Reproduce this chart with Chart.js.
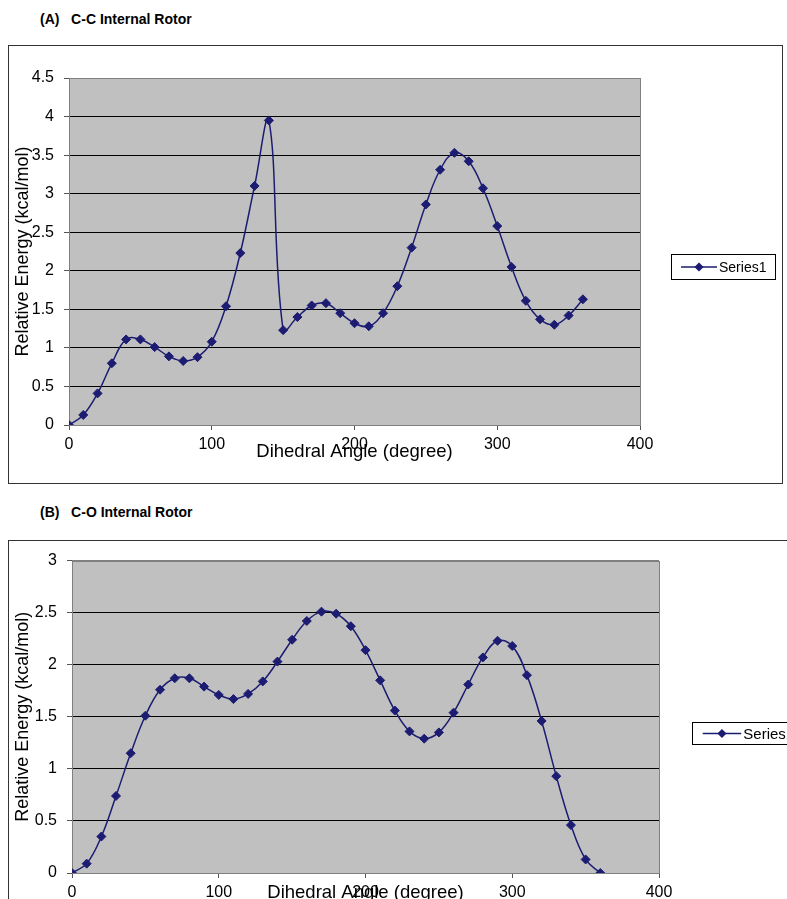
<!DOCTYPE html>
<html>
<head>
<meta charset="utf-8">
<script src="https://cdn.jsdelivr.net/npm/chart.js@4/dist/chart.umd.min.js"></script>
<style>
  html, body { margin: 0; padding: 0; background: #fff; overflow: hidden; }
  body { width: 787px; height: 899px; position: relative; font-family: "Liberation Sans", Arial, sans-serif; }
  .title { position: absolute; left: 40px; font-weight: bold; font-size: 14px; white-space: pre; color: #000; letter-spacing: 0; }
  .box { position: absolute; border: 1px solid #333; box-sizing: border-box; }
  .box canvas { position: absolute; left: 0; top: 0; }
</style>
</head>
<body>
<div class="title" style="top:11px">(A)   C-C Internal Rotor</div>
<div class="box" style="left:8px; top:45px; width:775px; height:439px">
  <canvas id="ccChart" width="773" height="437" style="width:773px;height:437px"></canvas>
</div>
<div class="title" style="top:504px">(B)   C-O Internal Rotor</div>
<div class="box" style="left:8px; top:540px; width:800px; height:400px">
  <canvas id="coChart" width="798" height="398" style="width:798px;height:398px"></canvas>
</div>
<script>
// dihedral angles (degree)
const angles = [0, 10, 20, 30, 40, 50, 60, 70, 80, 90, 100, 110, 120, 130, 140, 150, 160, 170, 180,
    190, 200, 210, 220, 230, 240, 250, 260, 270, 280, 290, 300, 310, 320, 330, 340, 350, 360];

// (A) C-C internal rotor, relative energy (kcal/mol)
const ccEnergy = [0, 0.13, 0.41, 0.80, 1.11, 1.11, 1.01, 0.89, 0.83, 0.88, 1.08, 1.54, 2.23, 3.10, 3.95,
    1.23, 1.40, 1.55, 1.58, 1.45, 1.32, 1.28, 1.45, 1.80, 2.30, 2.86, 3.31, 3.53, 3.42, 3.07, 2.58,
    2.05, 1.61, 1.37, 1.30, 1.42, 1.63];

// (B) C-O internal rotor, relative energy (kcal/mol)
const coEnergy = [0, 0.09, 0.35, 0.74, 1.15, 1.51, 1.76, 1.87, 1.87, 1.79, 1.71, 1.67, 1.72, 1.84, 2.03,
    2.24, 2.42, 2.51, 2.49, 2.37, 2.14, 1.85, 1.56, 1.36, 1.29, 1.35, 1.54, 1.81, 2.07, 2.23, 2.18,
    1.90, 1.46, 0.93, 0.46, 0.13, 0.00];

const seriesName = 'Series1';
const FONT = '"Liberation Sans", Arial, sans-serif';
const NAVY = '#1c1c72';

// grey plot background + plot frame
const plotFrame = {
    id: 'plotFrame',
    beforeDraw(chart) {
        const a = chart.chartArea, ctx = chart.ctx;
        ctx.save();
        ctx.fillStyle = '#c0c0c0';
        ctx.fillRect(a.left, a.top, a.right - a.left, a.bottom - a.top);
        ctx.restore();
    },
    beforeDatasetsDraw(chart) {
        const a = chart.chartArea, ctx = chart.ctx;
        ctx.save();
        ctx.strokeStyle = '#808080';
        ctx.lineWidth = 1;
        ctx.strokeRect(Math.round(a.left) + 0.5, Math.round(a.top) + 0.5,
            Math.round(a.right - a.left), Math.round(a.bottom - a.top));
        ctx.restore();
    }
};

// boxed legend like the spreadsheet one
const boxLegend = {
    id: 'boxLegend',
    afterDraw(chart, args, opts) {
        const ctx = chart.ctx;
        const ds = chart.data.datasets[0];
        const s = opts.scale;
        ctx.save();
        ctx.fillStyle = '#fff';
        ctx.fillRect(opts.x, opts.y, opts.w, opts.h);
        ctx.strokeStyle = '#000';
        ctx.lineWidth = 1;
        ctx.strokeRect(opts.x + 0.5, opts.y + 0.5, opts.w, opts.h);
        const cy = opts.y + opts.h / 2 + 0.5;
        ctx.strokeStyle = ds.borderColor;
        ctx.lineWidth = 1.5;
        ctx.beginPath();
        ctx.moveTo(opts.x + 10 * s, cy);
        ctx.lineTo(opts.x + 46 * s, cy);
        ctx.stroke();
        Chart.helpers.drawPoint(ctx, {pointStyle: 'rectRot', radius: 3.5, borderWidth: 1}, opts.x + 28 * s, cy);
        ctx.fillStyle = ds.borderColor;
        ctx.fill();
        ctx.fillStyle = '#000';
        ctx.font = (14 * s) + 'px ' + FONT;
        ctx.textBaseline = 'middle';
        ctx.fillText(ds.label, opts.x + 48 * s, cy + 1);
        ctx.restore();
    }
};

function makeChart(id, values, yMax, area, legendPos, xTitlePad) {
    const canvas = document.getElementById(id);
    const points = angles.map((a, i) => ({x: a, y: values[i]}));
    return new Chart(canvas, {
        type: 'line',
        data: {
            datasets: [{
                label: seriesName,
                data: points,
                borderColor: NAVY,
                backgroundColor: NAVY,
                borderWidth: 1.5,
                tension: 0.4,
                pointStyle: 'rectRot',
                pointRadius: 4.5,
                pointBorderWidth: 1,
                fill: false
            }]
        },
        options: {
            responsive: false,
            animation: false,
            devicePixelRatio: 1,
            layout: {
                padding: {left: 0, top: area.top, right: canvas.width - area.right, bottom: 0}
            },
            plugins: {
                legend: {display: false},
                tooltip: {enabled: false},
                boxLegend: legendPos
            },
            scales: {
                x: {
                    type: 'linear',
                    min: 0,
                    max: 400,
                    afterFit(scale) { scale.height = canvas.height - area.bottom; },
                    ticks: {stepSize: 100, color: '#000', padding: 5, font: {family: FONT, size: 16}},
                    grid: {drawOnChartArea: false, drawTicks: true, tickLength: 5, tickColor: '#555'},
                    border: {color: '#808080', width: 1},
                    title: {
                        display: true,
                        text: 'Dihedral Angle (degree)',
                        color: '#000',
                        font: {family: FONT, size: 18.5},
                        padding: {top: 0, bottom: xTitlePad}
                    }
                },
                y: {
                    min: 0,
                    max: yMax,
                    afterFit(scale) { scale.width = area.left; },
                    ticks: {
                        stepSize: 0.5,
                        color: '#000',
                        padding: 10,
                        font: {family: FONT, size: 16},
                        callback: v => String(+v.toFixed(1))
                    },
                    grid: {
                        color: ctx => (ctx.tick && (ctx.tick.value === yMax || ctx.tick.value === 0)) ? '#808080' : '#000',
                        lineWidth: 1,
                        drawTicks: true,
                        tickLength: 5,
                        tickColor: '#555'
                    },
                    border: {color: '#808080', width: 1},
                    title: {
                        display: true,
                        text: 'Relative Energy (kcal/mol)',
                        color: '#000',
                        font: {family: FONT, size: 18},
                        padding: {top: 3, bottom: 0}
                    }
                }
            }
        },
        plugins: [plotFrame, boxLegend]
    });
}

makeChart('ccChart', ccEnergy, 4.5, {left: 60, right: 631, top: 32, bottom: 379},
    {x: 662, y: 208, w: 104, h: 25, scale: 1}, 20);
makeChart('coChart', coEnergy, 3, {left: 63, right: 650, top: 18, bottom: 332},
    {x: 683, y: 181, w: 110, h: 22, scale: 1.07}, 35);
</script>
</body>
</html>
